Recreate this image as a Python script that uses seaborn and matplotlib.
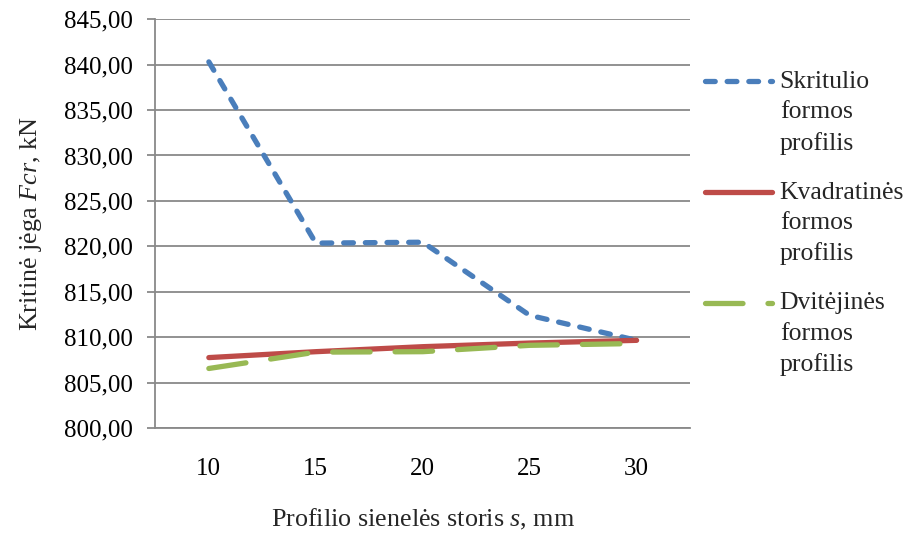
import numpy as np
import pandas as pd
import seaborn as sns
import matplotlib.pyplot as plt
from matplotlib.ticker import FuncFormatter
from matplotlib.legend_handler import HandlerLine2D

# --- data ---
storis = [10, 15, 20, 25, 30]
skritulio = [840.30, 820.35, 820.45, 812.40, 809.65]
kvadratines = [807.75, 808.40, 808.95, 809.35, 809.65]
dvitejines = [806.55, 808.35, 808.40, 809.10, 809.30]
series_names = ["Skritulio\nformos\nprofilis",
                "Kvadratinės\nformos\nprofilis",
                "Dvitėjinės\nformos\nprofilis"]

df = pd.DataFrame({
    "s": storis * 3,
    "Fcr": skritulio + kvadratines + dvitejines,
    "serija": np.repeat(series_names, len(storis)),
})

sns.set_theme(style="white")
plt.rcParams["font.family"] = ["Liberation Serif", "DejaVu Serif"]
plt.rcParams["mathtext.fontset"] = "custom"
plt.rcParams["mathtext.rm"] = "Liberation Serif"
plt.rcParams["mathtext.it"] = "Liberation Serif:italic"
plt.rcParams["lines.scale_dashes"] = False

colors = {series_names[0]: "#4A7EBB", series_names[1]: "#BE4B48", series_names[2]: "#98B954"}
dashes = {series_names[0]: (7, 8.6), series_names[1]: "", series_names[2]: (27, 18)}

FS = 18
LAB_FS = 18.8
LEG_FS = 18.5
LEG_LS = 1.48   # line spacing inside the legend labels


class TopLineHandler(HandlerLine2D):
    # put the legend line level with the first text line, like Excel does
    def create_artists(self, legend, orig_handle, xdescent, ydescent,
                       width, height, fontsize, trans):
        arts = super().create_artists(legend, orig_handle, xdescent, ydescent,
                                      width, height, fontsize, trans)
        for a in arts:
            a.set_ydata(np.asarray(a.get_ydata()) + 1.2 * fontsize)
        return arts


fig = plt.figure(figsize=(9.14, 5.33), dpi=100)
ax = fig.add_axes([0.170, 0.197, 0.585, 0.767])

sns.lineplot(data=df, x="s", y="Fcr", hue="serija", style="serija",
             palette=colors, dashes=dashes, linewidth=3.8, legend=False, ax=ax)
for ln in ax.get_lines():
    ln.set_dash_capstyle("round")
    ln.set_solid_capstyle("round")
    ln.set_solid_joinstyle("round")
    ln.set_dash_joinstyle("round")

ax.set_xlim(7.5, 32.5)
ax.set_ylim(800, 845)
ax.set_xticks(storis)
ax.set_yticks(np.arange(800, 846, 5))
ax.yaxis.set_major_formatter(FuncFormatter(lambda v, p: f"{v:.2f}".replace(".", ",")))

grid_c = "#898989"
ax.grid(axis="y", color=grid_c, linewidth=1.3)
ax.set_axisbelow(True)
for side in ["top", "right"]:
    ax.spines[side].set_visible(False)
for side in ["left", "bottom"]:
    ax.spines[side].set_color(grid_c)
    ax.spines[side].set_linewidth(1.3)

ax.tick_params(axis="y", which="major", left=True, length=5.5, width=1.3,
               color=grid_c, pad=11, labelsize=FS, labelcolor="black")
ax.tick_params(axis="x", which="major", bottom=False, pad=15.5, labelsize=FS,
               labelcolor="black")

ax.set_xlabel("Profilio sienelės storis $\\mathit{s}$, mm", fontsize=LAB_FS, labelpad=19.5)
ax.set_ylabel("Kritinė jėga $\\mathit{Fcr}$, kN", fontsize=LAB_FS, labelpad=14)

lines = ax.get_lines()
leg = ax.legend(handles=lines, labels=series_names,
                loc="upper left", bbox_to_anchor=(0.985, 0.93),
                frameon=False, fontsize=LEG_FS, handlelength=2.6,
                handletextpad=0.3, labelspacing=1.05, borderaxespad=0.5,
                handler_map={ln: TopLineHandler() for ln in lines})
for t in leg.get_texts():
    t.set_linespacing(LEG_LS)

fig.savefig("out.png", dpi=100)
